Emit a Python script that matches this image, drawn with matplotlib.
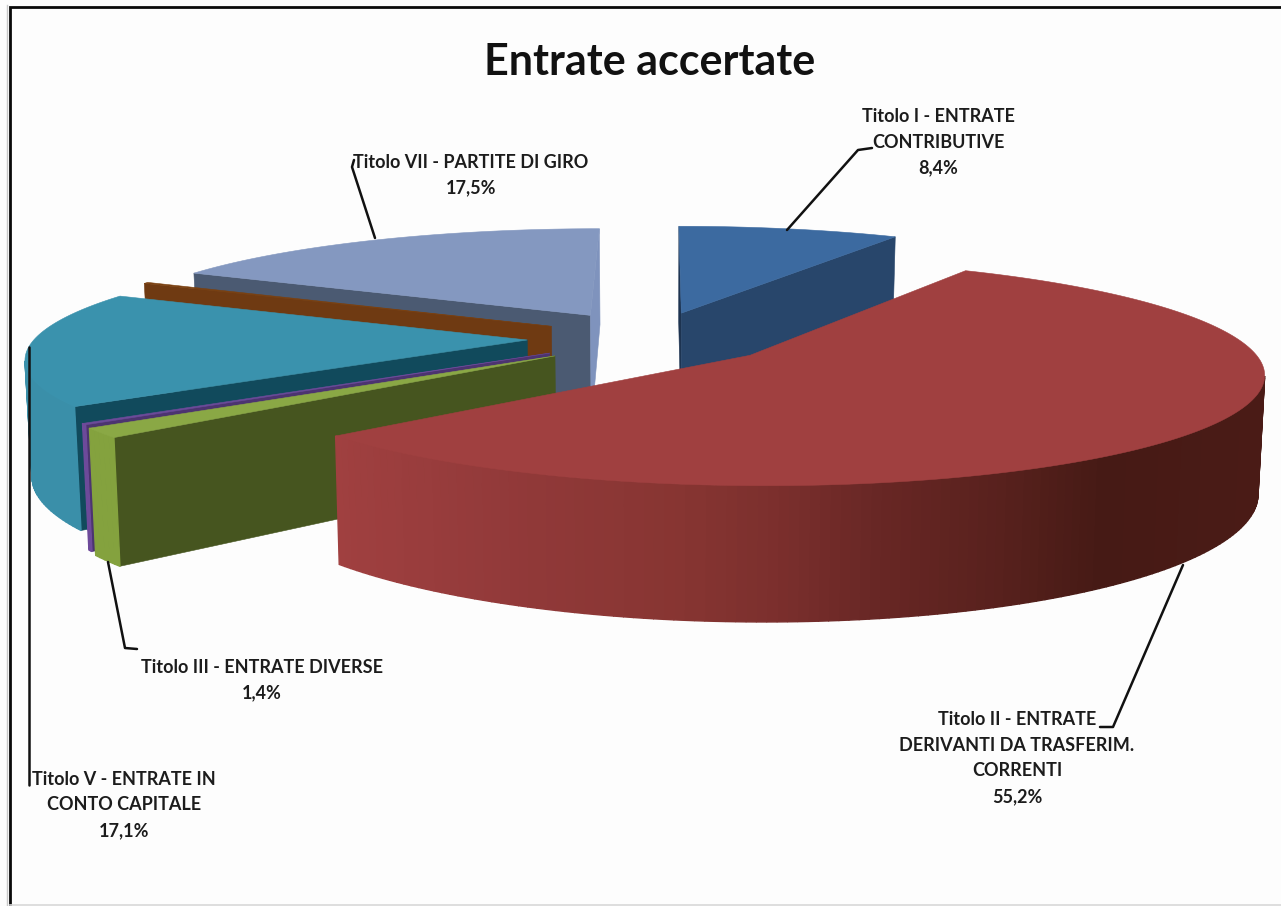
import matplotlib

matplotlib.use("Agg")

import matplotlib.pyplot as plt
import numpy as np
from matplotlib.colors import LinearSegmentedColormap
from matplotlib.patches import Polygon

# clockwise from twelve o'clock
values = [8.4, 55.2, 1.4, 0.2, 17.1, 0.2, 17.5]
explode_x = [0.04, 0.172, -0.209, -0.22, -0.269, -0.225, -0.148]
explode_y = [0.30, -0.10, -0.105, -0.08, 0.04, 0.17, 0.278]
radius = [1, 0.99, 1, 1, 0.985, 1, 0.99]
top_colors = ["#3c6aa0", "#a04040", "#8aa845", "#6d4a9a", "#3a92ad", "#7a4010", "#8498c0"]
wall_colors = ["#28466b", "#7e2d2d", "#84a23e", "#6d4a9a", "#3a8fa9", "#6f3a12", "#7f93bd"]
start_colors = ["#1d3350", "#7e2d2d", "#46551f", "#4c3470", "#114a5c", "#6f3a12", "#4b5a72"]
end_colors = ["#28466b", "#7e2d2d", "#46551f", "#4c3470", "#114a5c", "#6f3a12", "#7f93bd"]
draw_order = [0, 6, 5, 4, 3, 2, 1]

labels = [
    "Titolo I - ENTRATE\nCONTRIBUTIVE\n8,4%",
    "Titolo II - ENTRATE\nDERIVANTI DA TRASFERIM.\nCORRENTI\n55,2%",
    "Titolo III - ENTRATE DIVERSE\n1,4%",
    "Titolo V - ENTRATE IN\nCONTO CAPITALE\n17,1%",
    "Titolo VII - PARTITE DI GIRO\n17,5%",
]
label_x = [938, 1017, 262, 124, 471]
label_y = [142, 758, 680, 805, 175]
leaders = [
    [(787, 230), (858, 150), (872, 148)],
    [(1183, 565), (1113, 727), (1100, 727)],
    [(108, 562), (125, 648), (137, 649)],
    [(29, 347), (29, 785)],
    [(375, 238), (352, 167), (354, 160)],
]

CX, CY, RX, RY = 662, 344.3, 504, 108.5
K, DEPTH = 0.15, 114

wall_red = LinearSegmentedColormap.from_list(
    "wall_red",
    [(0, "#a04040"), (0.17, "#933a3a"), (0.37, "#873532"), (0.48, "#7b2f2d"), (0.58, "#692725"), (0.72, "#58211d"), (0.83, "#461a15"), (1, "#4a1b16")],
)


def project(x, y, z=0.0):
    w = 1 + K * y
    return CX + RX * x / w * (1 - 0.011 * z), CY - RY * y / w + DEPTH * z / w


def faces_camera(nx, ny, x, y):
    return nx * (0 - x) + ny * (-1 / K - y) > 0


def rim_point(i, angle):
    return explode_x[i] + radius[i] * np.sin(angle), explode_y[i] + radius[i] * np.cos(angle)


def cut_face(ax, i, angle, color):
    ox, oy = explode_x[i], explode_y[i]
    rim = rim_point(i, angle)
    pts = [project(ox, oy), project(*rim), project(*rim, 1), project(ox, oy, 1)]
    ax.add_patch(Polygon(pts, facecolor=color, edgecolor=color, linewidth=0.4))


def draw_slice(ax, i, start, end):
    ox, oy = explode_x[i], explode_y[i]
    t0, t1 = np.radians(start), np.radians(end)

    # cut faces first, skipped when they point away from the viewer
    if faces_camera(-np.cos(t0), np.sin(t0), ox, oy):
        cut_face(ax, i, t0, start_colors[i])
    if faces_camera(np.cos(t1), -np.sin(t1), ox, oy):
        cut_face(ax, i, t1, end_colors[i])

    steps = max(4, int(end - start))
    angles = np.linspace(t0, t1, steps + 1)

    # outer wall, the big slice is shaded across the page
    for a, b in zip(angles[:-1], angles[1:]):
        mid = (a + b) / 2
        px, py = rim_point(i, mid)
        if not faces_camera(np.sin(mid), np.cos(mid), px, py):
            continue
        pa, pb = rim_point(i, a), rim_point(i, b)
        pts = [project(*pa), project(*pb), project(*pb, 1), project(*pa, 1)]
        color = wall_colors[i]
        if i == 1:
            color = wall_red((project(px, py)[0] - 334) / 928)
        ax.add_patch(Polygon(pts, facecolor=color, edgecolor=color, linewidth=1.0))

    # top surface
    pts = [project(ox, oy)] + [project(*rim_point(i, a)) for a in angles]
    ax.add_patch(Polygon(pts, facecolor=top_colors[i], edgecolor=top_colors[i], linewidth=0.4))


plt.rcParams["font.family"] = ["Lato", "DejaVu Sans"]

figure = plt.figure(figsize=(12.81, 9.06), dpi=100, facecolor="#fdfdfd")
axis = figure.add_axes([0, 0, 1, 1])
axis.set_xlim(0, 1281)
axis.set_ylim(906, 0)
axis.axis("off")

edges = np.cumsum([0] + values) / sum(values) * 360
for i in draw_order:
    draw_slice(axis, i, edges[i], edges[i + 1])

for points in leaders:
    axis.plot([p[0] for p in points], [p[1] for p in points], color="#111111", linewidth=1.8, solid_capstyle="round")

for text, x, y in zip(labels, label_x, label_y):
    axis.text(x, y, text, ha="center", va="center", fontsize=13, fontweight="bold", color="#1c1c1c", linespacing=1.62)

axis.text(650, 62, "Entrate accertate", ha="center", va="center", fontsize=31, fontweight="bold", color="#111111")

# scanned page frame
axis.plot([9.5, 9.5, 1281], [906, 7, 7], color="#0a0a0a", linewidth=2, solid_joinstyle="miter")
axis.plot([7, 7], [906, 5], color="#c8c8c8", linewidth=1)
axis.plot([10, 1281], [905, 905], color="#d8d8d8", linewidth=1.2)

figure.savefig("out.png", dpi=100, facecolor=figure.get_facecolor())
plt.close(figure)
